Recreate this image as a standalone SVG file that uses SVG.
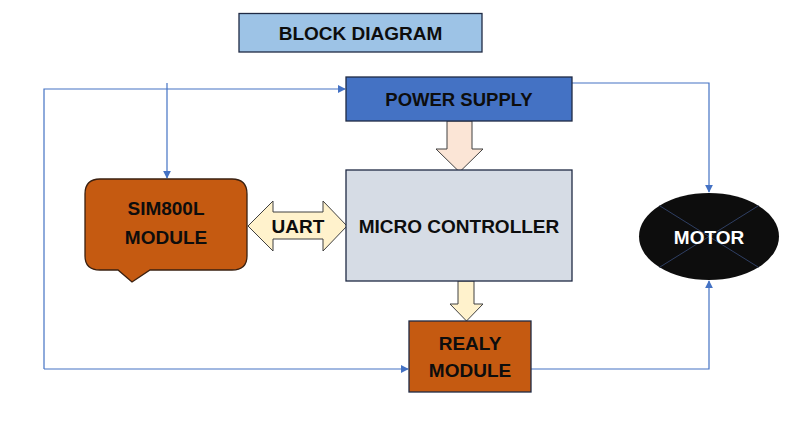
<svg xmlns="http://www.w3.org/2000/svg" width="795" height="422" viewBox="0 0 795 422">
<defs>
<marker id="ah" viewBox="0 0 10 10" refX="9" refY="5" markerWidth="8" markerHeight="8" markerUnits="userSpaceOnUse" orient="auto">
<path d="M0,0 L10,5 L0,10 z" fill="#4472C4"/>
</marker>
<style>
.t{font-family:"Liberation Sans",Arial,sans-serif;font-weight:bold;text-anchor:middle;fill:#0D0D0D}
.c{fill:none;stroke:#4472C4;stroke-width:1.2}
.blk{stroke:#1F2A44;stroke-width:1.3}
</style>
</defs>
<rect width="795" height="422" fill="#ffffff"/>
<g id="title">
<rect x="239" y="13.5" width="243" height="38.5" fill="#9DC3E6" class="blk"/>
<text x="360.5" y="40" class="t" font-size="19">BLOCK DIAGRAM</text>
</g>
<g id="connectors">
<polyline class="c" points="44,369 44,89 345,89" marker-end="url(#ah)"/>
<line class="c" x1="167" y1="83" x2="167" y2="178" marker-end="url(#ah)"/>
<polyline class="c" points="572,83 709,83 709,192" marker-end="url(#ah)"/>
<line class="c" x1="44" y1="369" x2="408" y2="369" marker-end="url(#ah)"/>
<polyline class="c" points="531,369 709,369 709,281" marker-end="url(#ah)"/>
<path d="M447,121 L472,121 L472,149 L483,149 L459.5,172 L436,149 L447,149 Z" fill="#FBE5D6" stroke="#404040" stroke-width="1"/>
<path d="M458,281 L474,281 L474,304 L483,304 L466.5,321 L450,304 L458,304 Z" fill="#FFF2CC" stroke="#404040" stroke-width="1"/>
<path d="M248,226 L273,201 L273,212 L323,212 L323,201 L347,226 L323,251 L323,239 L273,239 L273,251 Z" fill="#FFF2CC" stroke="#404040" stroke-width="1"/>
<text x="298" y="233" class="t" font-size="19">UART</text>
</g>
<g id="power">
<rect x="346" y="77" width="226" height="44" fill="#4472C4" class="blk"/>
<text x="459" y="106" class="t" font-size="18.5">POWER SUPPLY</text>
</g>
<g id="mcu">
<rect x="346" y="170" width="226" height="111" fill="#D6DCE5" class="blk"/>
<text x="459" y="233" class="t" font-size="19">MICRO CONTROLLER</text>
</g>
<g id="sim">
<path d="M100,179 L232,179 Q247,179 247,194 L247,256 Q247,270 232,270 L150,270 L132,282 L118,270 L100,270 Q85,270 85,256 L85,194 Q85,179 100,179 Z" fill="#C55A11" stroke="#3A2010" stroke-width="1.3"/>
<text x="166" y="215" class="t" font-size="19">SIM800L</text>
<text x="166" y="244" class="t" font-size="19">MODULE</text>
</g>
<g id="motor">
<ellipse cx="709" cy="236.5" rx="70" ry="43.5" fill="#0D0D0D"/>
<line x1="659.5" y1="205.7" x2="758.5" y2="267.3" stroke="#2F3F63" stroke-width="1"/>
<line x1="659.5" y1="267.3" x2="758.5" y2="205.7" stroke="#2F3F63" stroke-width="1"/>
<text x="709" y="244" class="t" font-size="19" style="fill:#ffffff">MOTOR</text>
</g>
<g id="relay">
<rect x="409" y="321" width="122" height="71" fill="#C55A11" class="blk"/>
<text x="470" y="350" class="t" font-size="19">REALY</text>
<text x="470" y="377" class="t" font-size="19">MODULE</text>
</g>
</svg>
